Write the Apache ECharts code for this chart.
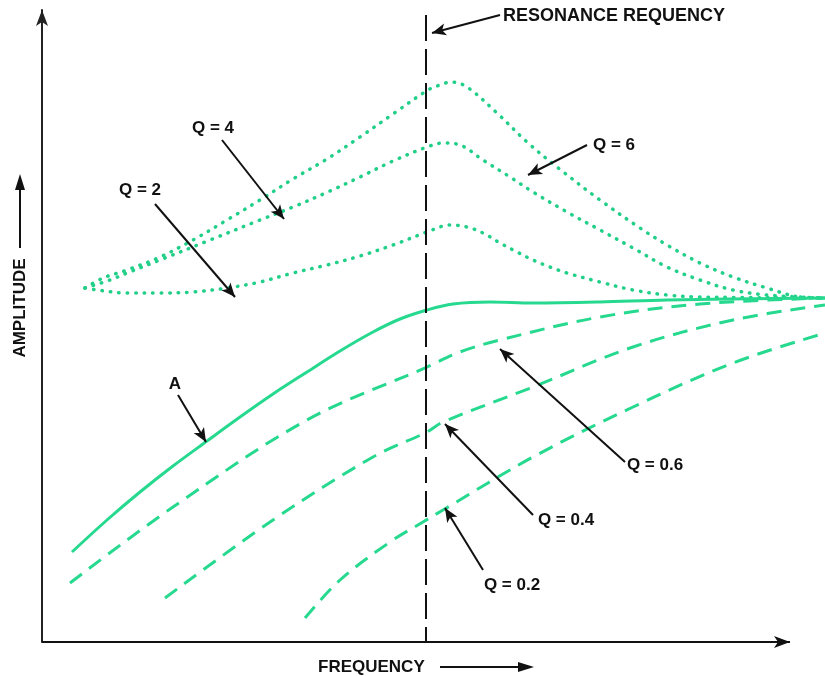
<!DOCTYPE html>
<html>
<head>
<meta charset="utf-8">
<script src="https://cdn.jsdelivr.net/npm/echarts@6/dist/echarts.min.js"></script>
<style>
  html, body { margin: 0; padding: 0; background: #fff; }
  #main { width: 825px; height: 676px; }
</style>
</head>
<body>
<div id="main"></div>
<script>
// values: [frequency, amplitude] in arbitrary units
var curveA = [[30,90],[65,122],[98,150],[131,176],[165,201],[198,225],[231,248],[265,270],[298,291],[331,310],[358,323],[385,332],[411,338],[448,340],[491,339],[558,340],[625,342],[783,344]];
var q06 = [[28,59],[131,135],[265,222],[385,275],[418,290],[458,302],[558,325],[658,338],[783,344]];
var q04 = [[123,44],[231,122],[331,185],[385,210],[401,220],[491,255],[591,295],[691,322],[783,337]];
var q02 = [[263,24],[298,62],[348,100],[381,120],[401,132],[491,185],[591,235],[691,279],[783,309]];
var q2 = [[43,354],[55,352],[85,349],[118,349],[151,350],[185,354],[218,360],[251,369],[285,377],[318,386],[351,397],[385,410],[408,417],[425,415],[441,409],[458,399],[475,390],[491,382],[508,375],[525,369],[558,360],[591,352],[625,347],[658,345],[783,344]];
var q4 = [[43,354],[68,362],[85,369],[118,382],[168,402],[218,422],[251,435],[288,451],[318,465],[351,481],[385,495],[401,499],[418,497],[441,482],[468,465],[491,450],[525,430],[558,412],[591,394],[625,375],[658,362],[691,352],[725,347],[783,344]];
var q6 = [[43,354],[61,364],[85,372],[118,385],[151,402],[185,422],[218,442],[251,463],[285,483],[318,505],[351,528],[386,552],[398,557],[409,560],[425,555],[455,529],[485,500],[515,475],[558,442],[598,414],[625,397],[658,379],[691,365],[725,354],[758,345],[783,344]];

var resonance = 384;
// annotation arrows: [from, to]
var arrows = [
  [[458,627],[390,609]],
  [[180,502],[242,423]],
  [[113,438],[193,345]],
  [[545,497],[486,467]],
  [[136,247],[164,200]],
  [[583,180],[458,293]],
  [[491,127],[403,218]],
  [[441,72],[403,134]]
];
var notes = [
  ['RESONANCE REQUENCY', [572,626]],
  ['Q = 4', [171,514]],
  ['Q = 2', [98,452]],
  ['Q = 6', [572,497]],
  ['A', [133,258]],
  ['Q = 0.6', [613,177]],
  ['Q = 0.4', [524,122]],
  ['Q = 0.2', [470,57]]
];

var green = '#26d98f';
var font = 'Liberation Sans';

var chartDom = document.getElementById('main');
var myChart = echarts.init(chartDom);

function dotted(name, data) {
  return {
    name: name, type: 'line', data: data, smooth: 0.35, symbol: 'none',
    lineStyle: { color: '#22cf88', width: 3.5, type: [0.5, 8], cap: 'round' }
  };
}
function dashed(name, data) {
  return {
    name: name, type: 'line', data: data, smooth: 0.35, symbol: 'none',
    lineStyle: { color: green, width: 3, type: [15, 9] }
  };
}

var option = {
  animation: false,
  grid: { left: 42, right: 0, top: 10, bottom: 34 },
  xAxis: {
    type: 'value', min: 0, max: 783,
    axisLine: { show: false },
    axisTick: { show: false }, axisLabel: { show: false }, splitLine: { show: false }
  },
  yAxis: {
    type: 'value', min: 0, max: 632,
    axisLine: { show: true, symbol: ['none', 'arrow'], symbolSize: [9, 16], lineStyle: { color: '#222', width: 2 } },
    axisTick: { show: false }, axisLabel: { show: false }, splitLine: { show: false }
  },
  graphic: [
    { type: 'text', x: 318, y: 667, style: { text: 'FREQUENCY', font: 'bold 17px ' + font, fill: '#111', textVerticalAlign: 'middle' } },
    { type: 'line', shape: { x1: 440, y1: 667, x2: 522, y2: 667 }, style: { stroke: '#111', lineWidth: 2 } },
    { type: 'polygon', shape: { points: [[534,667],[518,662],[518,672]] }, style: { fill: '#111' } },
    { type: 'text', x: 20, y: 308, rotation: Math.PI / 2, style: { text: 'AMPLITUDE', font: 'bold 17px ' + font, fill: '#111', textAlign: 'center', textVerticalAlign: 'middle' } },
    { type: 'line', shape: { x1: 20, y1: 248, x2: 20, y2: 186 }, style: { stroke: '#111', lineWidth: 2 } },
    { type: 'polygon', shape: { points: [[20,174],[15,190],[25,190]] }, style: { fill: '#111' } }
  ],
  series: [
    dotted('Q = 2', q2),
    dotted('Q = 4', q4),
    dotted('Q = 6', q6),
    dashed('Q = 0.6', q06),
    dashed('Q = 0.4', q04),
    dashed('Q = 0.2', q02),
    {
      name: 'A', type: 'line', data: curveA, smooth: 0.35, symbol: 'none',
      lineStyle: { color: green, width: 3 },
      markLine: {
        silent: true, symbol: ['none', 'none'], label: { show: false },
        lineStyle: { color: '#111', width: 2, type: [26, 8] },
        data: [[{ coord: [resonance, 627] }, { coord: [resonance, 0] }]]
      },
      markPoint: {
        silent: true, symbol: 'circle', symbolSize: 1, itemStyle: { color: 'transparent' },
        label: { show: true, position: 'inside', formatter: '{b}', color: '#111', fontWeight: 'bold', fontSize: 17, fontFamily: font },
        data: notes.map(function (n, i) {
          return { name: n[0], coord: n[1], label: i === 0 ? { fontSize: 18 } : {} };
        })
      }
    },
    {
      name: 'arrows', type: 'line', data: [], symbol: 'none',
      markLine: {
        silent: true, symbol: ['none', 'arrow'], symbolSize: [9, 14], label: { show: false },
        lineStyle: { color: '#111', width: 2, type: 'solid' },
        data: arrows.map(function (a) { return [{ coord: a[0] }, { coord: a[1] }]; })
          .concat([[{ coord: [0, 0], symbol: 'none' }, { coord: [748, 0], symbolSize: [9, 16] }]])
      }
    }
  ]
};

option && myChart.setOption(option);
</script>
</body>
</html>
